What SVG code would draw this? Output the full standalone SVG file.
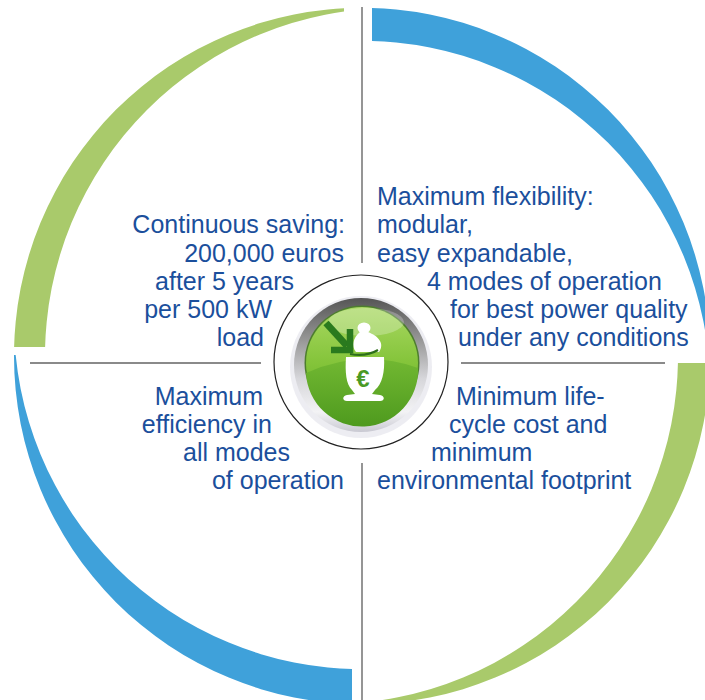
<svg xmlns="http://www.w3.org/2000/svg" width="705" height="700" viewBox="0 0 705 700">
<style>
.t{font-family:"Liberation Sans",Arial,sans-serif;font-size:25px;fill:#1B4F9C}
.e{text-anchor:end}
.green{fill:#A9CA6B}
.blue{fill:#3FA1DA}
.div{stroke:#8a8a8a;stroke-width:1.8;fill:none}
</style>
<defs>
<clipPath id="cTL"><rect x="0" y="0" width="344" height="347"/></clipPath>
<clipPath id="cTR"><rect x="372" y="0" width="333" height="349"/></clipPath>
<clipPath id="cBR"><rect x="382" y="363" width="323" height="337"/></clipPath>
<clipPath id="cBL"><rect x="0" y="355" width="352" height="345"/></clipPath>
<linearGradient id="silver" x1="0" y1="0" x2="0" y2="1">
<stop offset="0" stop-color="#555555"/>
<stop offset="0.3" stop-color="#949494"/>
<stop offset="0.6" stop-color="#d6d6da"/>
<stop offset="0.85" stop-color="#f3f3f5"/>
<stop offset="1" stop-color="#c9c9d2"/>
</linearGradient>
<linearGradient id="gTop" x1="0" y1="0" x2="0" y2="1">
<stop offset="0" stop-color="#a9d862"/>
<stop offset="0.5" stop-color="#84c43a"/>
<stop offset="1" stop-color="#5da826"/>
</linearGradient>
<linearGradient id="gLow" x1="0" y1="0" x2="0" y2="1">
<stop offset="0" stop-color="#72b832"/>
<stop offset="1" stop-color="#4e9a1e"/>
</linearGradient>
</defs>

<g id="ring-arcs">
<path class="green" clip-path="url(#cTL)" fill-rule="evenodd" d="M14,356 a348,348 0 1,0 696,0 a348,348 0 1,0 -696,0 Z M45,356 a348,348 0 1,0 696,0 a348,348 0 1,0 -696,0 Z"/>
<path class="blue" clip-path="url(#cTR)" fill-rule="evenodd" d="M14,356 a348,348 0 1,0 696,0 a348,348 0 1,0 -696,0 Z M14,389 a348,348 0 1,0 696,0 a348,348 0 1,0 -696,0 Z"/>
<path class="green" clip-path="url(#cBR)" fill-rule="evenodd" d="M14,356 a348,348 0 1,0 696,0 a348,348 0 1,0 -696,0 Z M-18,356 a348,348 0 1,0 696,0 a348,348 0 1,0 -696,0 Z"/>
<path class="blue" clip-path="url(#cBL)" fill-rule="evenodd" d="M14,356 a348,348 0 1,0 696,0 a348,348 0 1,0 -696,0 Z M14,321 a348,348 0 1,0 696,0 a348,348 0 1,0 -696,0 Z"/>
</g>

<g id="connectors">
<line class="div" x1="362" y1="7" x2="362" y2="263"/>
<line class="div" x1="362" y1="463" x2="362" y2="700"/>
<line class="div" x1="30" y1="363" x2="261" y2="363"/>
<line class="div" x1="461" y1="363" x2="665" y2="363"/>
</g>

<g id="center-icon">
<circle cx="361" cy="362" r="87" fill="#ffffff" stroke="#222" stroke-width="1.2"/>
<circle cx="361" cy="367" r="71" fill="#e6e6ec" opacity="0.7"/>
<circle cx="361" cy="365" r="67" fill="url(#silver)"/>
<circle cx="362" cy="363" r="57.5" fill="#4d7d2e"/>
<circle cx="362" cy="363" r="56" fill="url(#gTop)"/>
<path d="M306,373 Q362,348 418,368 A56,56 0 0,1 306,373 Z" fill="url(#gLow)"/>
<ellipse cx="366" cy="322" rx="38" ry="14" fill="#ffffff" opacity="0.25"/>
<ellipse cx="364" cy="328" rx="6.5" ry="5.5" fill="#ffffff"/>
<path d="M360,332 L368,332 C378,336 385,343 379,352 L356,352 C351,346 353,338 360,332 Z" fill="#ffffff"/>
<path d="M346,357 L384,357 C385,372 382,384 375,390 L372,394 L380,395 C385,396 385,401 380,401 L347,401 C342,401 342,396 347,395 L355,394 L352,390 C346,384 345,372 346,357 Z" fill="#ffffff"/>
<path d="M350,354 Q366,357 378,350" fill="none" stroke="#2d6e1a" stroke-width="2.2"/>
<line x1="326" y1="323" x2="347" y2="346" stroke="#2a7a1e" stroke-width="7"/>
<polyline points="350,329 350,350 331,350" fill="none" stroke="#2a7a1e" stroke-width="6.5"/>
<text x="363" y="387" text-anchor="middle" style="font-family:'Liberation Sans',Arial,sans-serif;font-size:24px;font-weight:bold;fill:#4a9a25">€</text>
</g>

<g id="node-saving">
<text class="t e" x="345" y="233">Continuous saving:</text>
<text class="t e" x="344" y="262">200,000 euros</text>
<text class="t e" x="294" y="290">after 5 years</text>
<text class="t e" x="272" y="318">per 500 kW</text>
<text class="t e" x="264" y="346">load</text>
</g>

<g id="node-flexibility">
<text class="t" x="377" y="205">Maximum flexibility:</text>
<text class="t" x="377" y="233">modular,</text>
<text class="t" x="377" y="262">easy expandable,</text>
<text class="t" x="427" y="290">4 modes of operation</text>
<text class="t" x="450" y="318">for best power quality</text>
<text class="t" x="458" y="346">under any conditions</text>
</g>

<g id="node-efficiency">
<text class="t e" x="263" y="405">Maximum</text>
<text class="t e" x="272" y="433">efficiency in</text>
<text class="t e" x="290" y="461">all modes</text>
<text class="t e" x="344" y="489">of operation</text>
</g>

<g id="node-cost">
<text class="t" x="456" y="405">Minimum life-</text>
<text class="t" x="449" y="433">cycle cost and</text>
<text class="t" x="431" y="461">minimum</text>
<text class="t" x="377" y="489">environmental footprint</text>
</g>
</svg>
